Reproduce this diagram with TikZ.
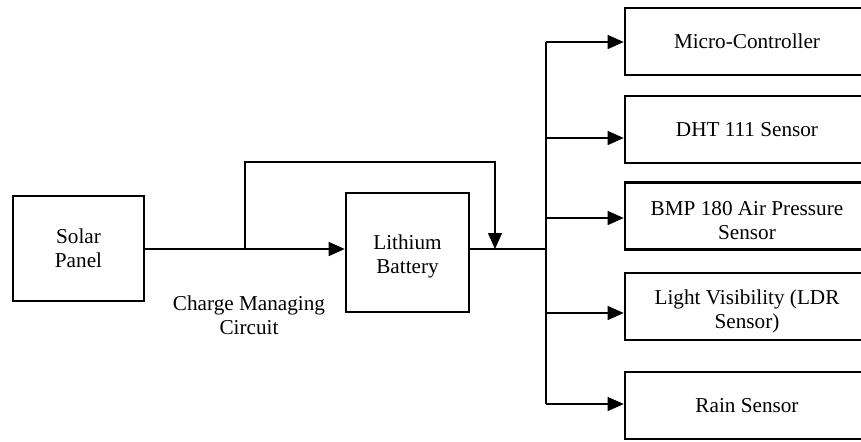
\documentclass[tikz,border=0pt]{standalone}
\usepackage{fontspec}
\setmainfont{Liberation Serif}
\usepackage{xcolor}
\definecolor{cLine}{HTML}{000000}
\usepackage{tikz}
\usetikzlibrary{positioning,arrows.meta,calc}
\tikzset{
  node-box/.style={draw=cLine,line width=1.3pt,fill=white,align=center,
    inner sep=0pt,font=\fontsize{10.6}{12}\selectfont},
  node-sensor/.style={node-box,minimum width=122pt,minimum height=33.5pt},
  node-low/.style={text height=24pt},
  node-label/.style={align=center,font=\fontsize{10.6}{12}\selectfont},
  wire/.style={draw=cLine,line width=0.6pt},
  arrow/.style={-{Triangle[length=8pt,width=7pt]},wire},
}
\begin{document}
\begin{tikzpicture}[x=0.5pt,y=-0.5pt]
  \clip (0,0) rectangle (861,441);
  \useasboundingbox (0,0) rectangle (861,441);
  % source side
  \node[node-box,minimum width=65.5pt,minimum height=52.5pt] (solar) at (78.5,248.5) {Solar\\Panel};
  \node[node-box,minimum width=61.5pt,minimum height=59.5pt,text height=23pt] (bat) at (407.5,252.5) {Lithium\\Battery};
  \node[node-label] (cmc) at (249,315) {Charge Managing\\Circuit};
  % loads
  \node[node-sensor] (mcu) at (747,41.5) {Micro-Controller};
  \node[node-sensor] (dht) at (747,129.5) {DHT 111 Sensor};
  \node[node-sensor,node-low] (bmp) at (747,216) {BMP 180 Air Pressure\\Sensor};
  \node[node-sensor,node-low] (ldr) at (747,306.5) {Light Visibility (LDR\\Sensor)};
  \node[node-sensor] (rain) at (747,405.5) {Rain Sensor};
  \coordinate (tap) at (245,249);
  \coordinate (join) at (495,249);
  \coordinate (bus) at (546,249);
  \draw[arrow] (solar.east |- tap) -- (bat.west |- tap);
  \draw[arrow] (tap) -- ++(0,-87) -| (join);
  \draw[wire] (bat.east |- bus) -- (bus);
  \draw[wire] (546,42) -- (546,404);
  \foreach \n/\y in {mcu/42,dht/138,bmp/218,ldr/313,rain/404}
    \draw[arrow] (546,\y) -- (\n.west |- 0,\y);
\end{tikzpicture}
\end{document}
